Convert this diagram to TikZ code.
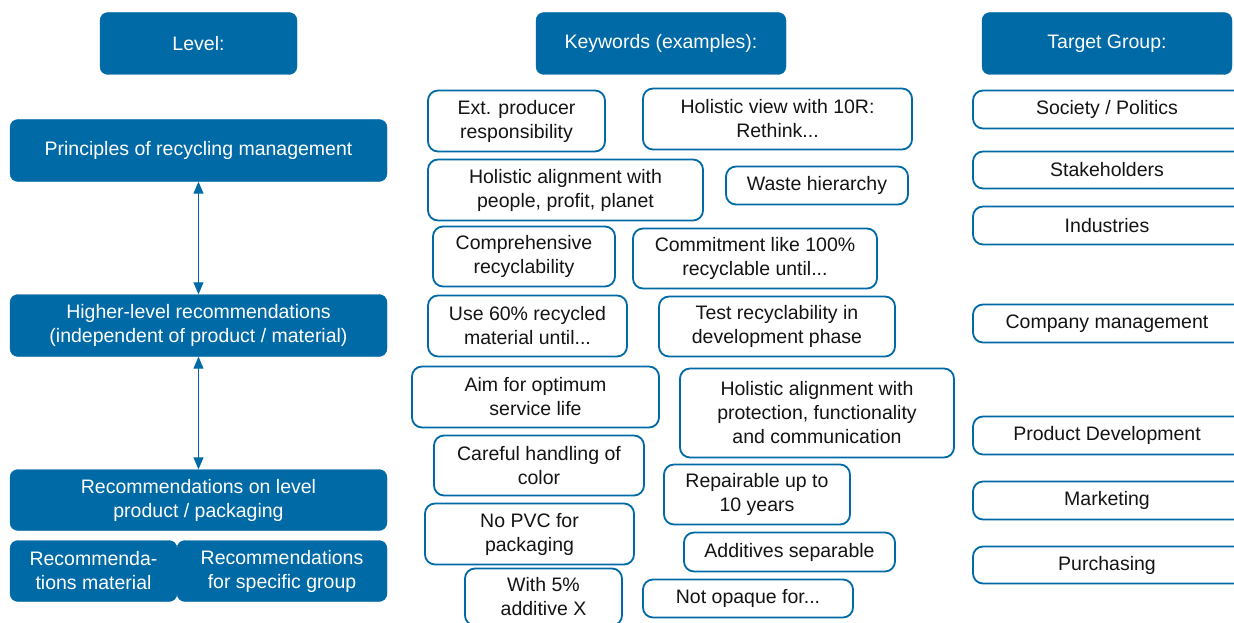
\documentclass[tikz,border=0pt]{standalone}
\usepackage{fontspec}
\setmainfont{Liberation Sans}
\usetikzlibrary{arrows.meta}
\definecolor{mblue}{RGB}{0,106,167}
\definecolor{ink}{RGB}{20,20,20}
\tikzset{
  base/.style={rounded corners=8pt, inner sep=0pt, align=center,
    font=\fontsize{19.5}{24}\selectfont},
  head/.style={base, fill=mblue, draw=mblue, text=white},
  lvl/.style={base, fill=mblue, draw=mblue, text=white},
  kw/.style={base, draw=mblue, line width=1.8pt, fill=white, text=ink, rounded corners=10pt},
  tg/.style={kw},
  link/.style={mblue, line width=1pt, {Triangle[width=10pt,length=12pt]}-{Triangle[width=10pt,length=12pt]}}
}
% box from pixel corners: \bx{style}{name}{x1}{y1}{x2}{y2}{text}
\newcommand{\bx}[7]{%
  \node[#1, minimum width={(#5-#3)*1pt}, minimum height={(#6-#4)*1pt}]
    (#2) at ({(#3+#5)/2},{(#4+#6)/2+0.5}) {#7};}
\begin{document}
\begin{tikzpicture}[x=1pt,y=-1pt]
\useasboundingbox (0,0) rectangle (1234,623);
\clip (0,0) rectangle (1234,623);

% column headers
\bx{head}{hLevel}{100}{12}{297}{74}{Level:}
\bx{head}{hKey}{536}{12}{786}{74}{Keywords (examples):}
\bx{head}{hTarget}{982}{12}{1232}{74}{Target Group:}

% levels
\bx{lvl}{lPrin}{10}{119}{387}{181}{Principles of recycling management}
\bx{lvl}{lHigh}{10}{294}{387}{356}{Higher-level recommendations\\(independent of product / material)}
\bx{lvl}{lProd}{10}{469}{387}{530}{Recommendations on level\\product / packaging}
\bx{lvl}{lMat}{10}{540}{177}{601}{Recommenda-\\tions material}
\bx{lvl}{lGrp}{177}{540}{387}{601}{Recommendations\\for specific group}

\draw[link] (lPrin.south) -- (lHigh.north);
\draw[link] (lHigh.south) -- (lProd.north);

% keywords
\bx{kw}{k1}{428}{90}{605}{151}{Ext. producer\\responsibility}
\bx{kw}{k2}{643}{88}{912}{149}{Holistic view with 10R:\\Rethink...}
\bx{kw}{k3}{428}{159}{703}{220}{Holistic alignment with\\people, profit, planet}
\bx{kw}{k4}{726}{166}{908}{204}{Waste hierarchy}
\bx{kw}{k5}{433}{226}{615}{286}{Comprehensive\\recyclability}
\bx{kw}{k6}{633}{228}{877}{288}{Commitment like 100\%\\recyclable until...}
\bx{kw}{k7}{428}{295}{627}{356}{Use 60\% recycled\\material until...}
\bx{kw}{k8}{659}{296}{895}{356}{Test recyclability in\\development phase}
\bx{kw}{k9}{412}{366}{659}{427}{Aim for optimum\\service life}
\bx{kw}{k10}{680}{368}{954}{457}{Holistic alignment with\\protection, functionality\\and communication}
\bx{kw}{k11}{434}{435}{644}{495}{Careful handling of\\color}
\bx{kw}{k12}{664}{464}{850}{524}{Repairable up to\\10 years}
\bx{kw}{k13}{425}{503}{634}{564}{No PVC for\\packaging}
\bx{kw}{k14}{684}{532}{895}{571}{Additives separable}
\bx{kw}{k15}{465}{568}{622}{625}{With 5\%\\additive X}
\bx{kw}{k16}{643}{579}{853}{617}{Not opaque for...}

% target groups
\bx{tg}{t1}{973}{90}{1260}{128}{\hspace*{-19pt}Society / Politics}
\bx{tg}{t2}{973}{151}{1260}{188}{\hspace*{-19pt}Stakeholders}
\bx{tg}{t3}{973}{206}{1260}{244}{\hspace*{-19pt}Industries}
\bx{tg}{t4}{973}{304}{1260}{342}{\hspace*{-19pt}Company management}
\bx{tg}{t5}{973}{416}{1260}{454}{\hspace*{-19pt}Product Development}
\bx{tg}{t6}{973}{481}{1260}{519}{\hspace*{-19pt}Marketing}
\bx{tg}{t7}{973}{546}{1260}{583}{\hspace*{-19pt}Purchasing}
\end{tikzpicture}
\end{document}
